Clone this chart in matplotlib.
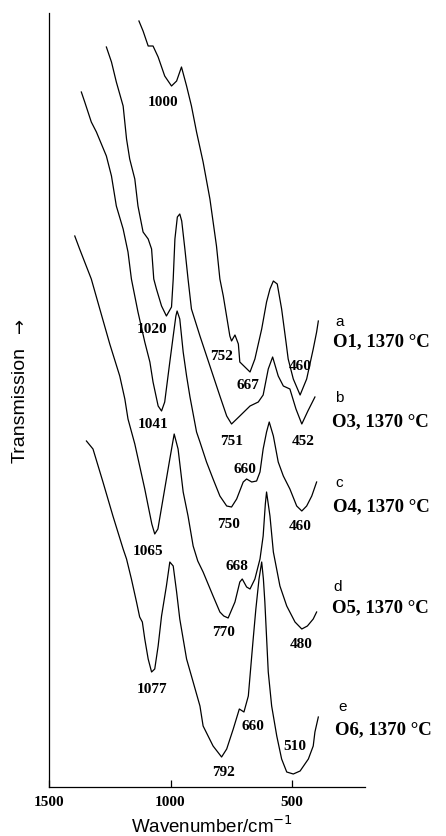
import matplotlib
matplotlib.use("Agg")
import matplotlib.pyplot as plt

# ---- data (wavenumber / cm-1, transmission in arbitrary offset units) ----
wn_a = [1130, 1113, 1092, 1072, 1051, 1024, 996, 975, 955, 934, 914, 893, 866, 838, 811, 797,
        783, 756, 749, 735, 721, 715, 694, 673, 653, 625, 605, 591, 577, 561, 543, 525, 516,
        495, 467, 440, 413, 399, 392]
t_a = [766, 756, 741, 741, 730, 711, 701, 706, 720, 701, 681, 655, 625, 588, 541, 508,
       491, 451, 446, 452, 443, 425, 420, 415, 428, 458, 485, 498, 506, 503, 478, 445, 428,
       408, 392, 408, 438, 455, 466]

wn_b = [1264, 1243, 1223, 1195, 1181, 1168, 1147, 1134, 1113, 1092, 1078, 1069, 1058, 1037,
        1017, 996, 989, 982, 972, 962, 954, 941, 928, 914, 879, 838, 797, 769, 749, 715, 673,
        639, 619, 598, 580, 557, 536, 509, 484, 460, 435, 406]
t_b = [740, 725, 705, 681, 648, 628, 608, 581, 555, 548, 538, 508, 498, 481,
       471, 480, 508, 548, 570, 573, 566, 538, 508, 478, 451, 421, 391, 371, 363, 371, 381,
       385, 392, 418, 430, 411, 401, 398, 378, 363, 376, 390]

wn_c = [1367, 1353, 1326, 1305, 1264, 1243, 1223, 1195, 1175, 1161, 1134, 1106, 1085, 1072,
        1051, 1037, 1024, 1003, 989, 978, 973, 962, 948, 934, 920, 893, 879, 852, 825, 797,
        769, 749, 728, 701, 687, 666, 646, 632, 619, 605, 594, 577, 557, 536, 509, 481, 460,
        440, 419, 399]
t_c = [695, 685, 665, 655, 631, 611, 581, 558, 535, 508, 475, 445, 425, 405,
       381, 376, 385, 425, 451, 471, 476, 468, 435, 411, 390, 355, 345, 325, 308, 291,
       281, 280, 288, 305, 308, 305, 306, 315, 338, 355, 365, 351, 325, 311, 298, 281, 276,
       281, 291, 305]

wn_d = [1394, 1374, 1326, 1291, 1250, 1209, 1188, 1175, 1147, 1127, 1106, 1092, 1077, 1065,
        1052, 1031, 1003, 985, 969, 948, 928, 907, 888, 866, 825, 797, 781, 763, 735, 715,
        705, 687, 673, 653, 632, 619, 610, 605, 591, 577, 550, 522, 488, 460, 437, 413, 399]
t_d = [551, 538, 508, 478, 443, 411, 388, 368, 343, 321, 298, 281, 263, 253,
       258, 288, 328, 353, 338, 295, 271, 241, 226, 215, 191, 175, 171, 169, 185, 205,
       208, 200, 198, 208, 228, 251, 283, 295, 271, 235, 201, 181, 165, 158, 161, 168, 175]

wn_e = [1346, 1319, 1278, 1237, 1195, 1181, 1161, 1140, 1127, 1116, 1106, 1092, 1078, 1065,
        1051, 1037, 1017, 1003, 989, 975, 962, 934, 907, 879, 866, 825, 790, 769, 742, 717,
        698, 680, 666, 660, 649, 636, 625, 618, 612, 598, 584, 563, 543, 522, 495, 467, 433,
        413, 406, 392]
t_e = [346, 338, 305, 271, 238, 228, 208, 185, 170, 165, 148, 128, 115, 118,
       141, 171, 201, 225, 221, 195, 168, 128, 105, 81, 61, 41, 30, 38, 58, 78,
       75, 91, 131, 148, 178, 208, 225, 208, 185, 115, 81, 51, 28, 15, 13, 16, 28,
       41, 55, 70]

# peak labels: text, wavenumber position, transmission position
peak_text = ["1000", "1020", "752", "667", "460",
             "1041", "751", "452",
             "1065", "750", "660", "460",
             "1077", "770", "668", "480",
             "792", "660", "510"]
peak_x = [1031, 1077, 790, 680, 467,
          1072, 749, 454,
          1092, 760, 694, 467,
          1078, 783, 726, 464,
          783, 662, 488]
peak_y = [685, 458, 431, 402, 421,
          363, 346, 346,
          236, 263, 318, 261,
          98, 155, 221, 143,
          15, 61, 41]

curve_letters = ["a", "b", "c", "d", "e"]
curve_names = ["O1, 1370 °C", "O3, 1370 °C", "O4, 1370 °C", "O5, 1370 °C", "O6, 1370 °C"]

x_ticks = [1500, 1000, 500]

# ---- figure ----
W, H = 446, 837
fig = plt.figure(figsize=(W / 100, H / 100), dpi=100)
ax = fig.add_axes([49 / W, 1 - 788 / H, (365 - 49) / W, (788 - 14) / H])

for wn, t in [(wn_a, t_a), (wn_b, t_b), (wn_c, t_c), (wn_d, t_d), (wn_e, t_e)]:
    ax.plot(wn, t, color="black", lw=0.9)

ax.set_xlim(1500, 200)
ax.set_ylim(0, 774)

for s in ["top", "right"]:
    ax.spines[s].set_visible(False)
for s in ["left", "bottom"]:
    ax.spines[s].set_linewidth(0.9)

ax.set_yticks([])
ax.set_xticks(x_ticks)
ax.set_xticklabels([str(v) for v in x_ticks], fontfamily="Liberation Serif",
                   fontweight="bold", fontsize=11)
ax.tick_params(axis="x", direction="in", length=5, width=0.9, pad=6)

serif = "Liberation Serif"
for txt, px, py in zip(peak_text, peak_x, peak_y):
    ax.text(px, py, txt, ha="center", va="center", fontfamily=serif,
            fontweight="bold", fontsize=11)

# right-hand curve labels (figure pixel positions)
letter_pos = [(335, 322), (335, 398), (335, 483), (333, 587), (338, 707)]
name_pos = [(333, 342), (332, 422), (333, 507), (332, 608), (335, 730)]
for (lx, ly), (nx, ny), let, nm in zip(letter_pos, name_pos, curve_letters, curve_names):
    fig.text(lx / W, 1 - ly / H, let, ha="left", va="center",
             fontfamily=["Liberation Sans", "DejaVu Sans"], fontsize=11)
    fig.text(nx / W, 1 - ny / H, nm, ha="left", va="center",
             fontfamily=serif, fontweight="bold", fontsize=13.5)

fig.text(212 / W, 1 - 826 / H, "Wavenumber/cm$^{-1}$", ha="center", va="center",
         fontfamily=["Liberation Sans", "DejaVu Sans"], fontsize=13.5)
fig.text(20 / W, 1 - 405 / H, "Transmission", ha="center", va="center", rotation=90,
         fontfamily=["Liberation Sans", "DejaVu Sans"], fontsize=14)
fig.text(20 / W, 1 - 325 / H, "→", ha="center", va="center", rotation=90,
         fontfamily=["DejaVu Sans"], fontsize=13)

fig.savefig("out.png", dpi=100)
